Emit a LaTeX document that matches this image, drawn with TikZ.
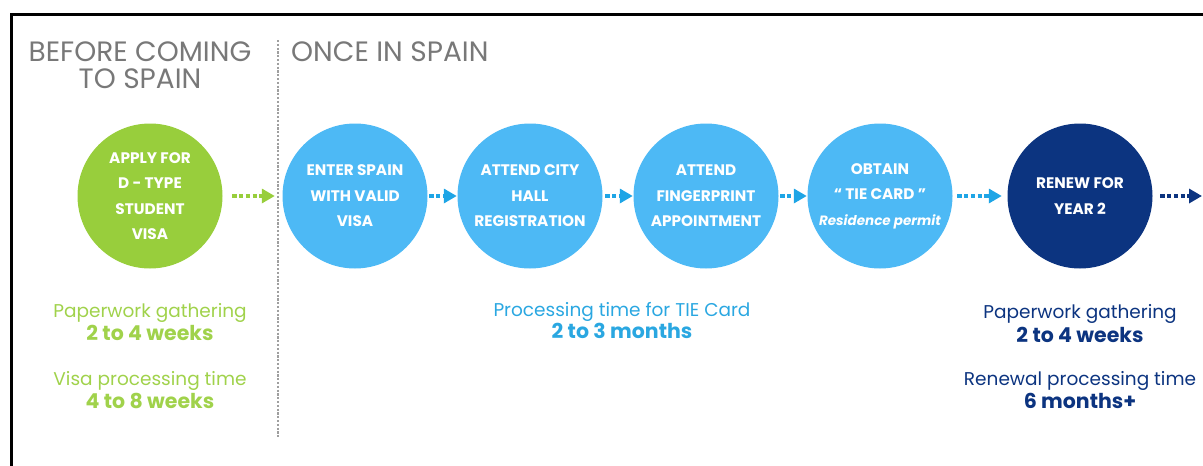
\documentclass[tikz,border=0pt]{standalone}
\usepackage{fontspec}
\setmainfont{Poppins}
\usetikzlibrary{arrows.meta}
\definecolor{vgreen}{RGB}{152,206,60}
\definecolor{tgreen}{RGB}{160,210,75}
\definecolor{lblue}{RGB}{77,185,245}
\definecolor{ablue}{RGB}{30,165,230}
\definecolor{tblue}{RGB}{42,167,225}
\definecolor{navy}{RGB}{12,52,128}
\definecolor{headgray}{RGB}{120,120,120}
\begin{document}
\begin{tikzpicture}[x=1pt,y=-1pt,
  stepc/.style={circle, minimum size=145pt, inner sep=0pt, text=white,
    font=\bfseries\fontsize{15.3}{25.5}\selectfont, align=center},
  flow/.style={line width=4.5pt, dash pattern=on 4.3pt off 2.5pt,
    -{Triangle[length=13pt,width=14pt]}},
  head/.style={text=headgray, font=\fontsize{28}{30}\selectfont, inner sep=0pt},
  info/.style={font=\fontsize{18.5}{20}\selectfont, inner sep=0pt, anchor=base},
  infob/.style={font=\bfseries\fontsize{20.5}{22}\selectfont, inner sep=0pt, anchor=base}
]
\useasboundingbox (0,0) rectangle (1203,466);
\draw[line width=3pt] (11,466) -- (11,14) -- (1203,14);

% divider
\coordinate (dtop) at (278,40);
\coordinate (dbot) at (278,438);
\draw[gray!75, line width=2.3pt, dash pattern=on 2.2pt off 1.6pt] (dtop) -- (dbot);

% headings
\node[head, anchor=base] (h1) at (140,61) {BEFORE COMING};
\node[head, anchor=base] (h2) at (140,88) {TO SPAIN};
\node[head, anchor=base west] (h3) at (291,61) {ONCE IN SPAIN};

% circles
\node[stepc, fill=vgreen] (apply) at (150,196) {APPLY FOR\\D - TYPE\\STUDENT\\VISA};
\node[stepc, fill=lblue] (enter) at (355,196) {ENTER SPAIN\\WITH VALID\\VISA};
\node[stepc, fill=lblue] (city) at (530,196) {ATTEND CITY\\HALL\\REGISTRATION};
\node[stepc, fill=lblue] (finger) at (706,196) {ATTEND\\FINGERPRINT\\APPOINTMENT};
\node[stepc, fill=lblue] (obtain) at (880,196) {OBTAIN\\“ TIE CARD ”\\{\itshape\fontsize{13.5}{25.5}\selectfont Residence permit}};
\node[stepc, fill=navy] (renew) at (1080,196) {RENEW FOR\\YEAR 2};
\coordinate (out) at (1203,196);

% connectors
\draw[flow, vgreen, shorten <=9.5pt, shorten >=7.5pt] (apply) -- (enter);
\draw[flow, ablue, shorten <=1.5pt, shorten >=0.5pt] (enter) -- (city);
\draw[flow, ablue, shorten <=2.5pt, shorten >=0.5pt] (city) -- (finger);
\draw[flow, ablue, shorten <=1.5pt, shorten >=0.5pt] (finger) -- (obtain);
\draw[flow, ablue, shorten <=4.5pt, shorten >=5.5pt] (obtain) -- (renew);
\draw[flow, navy, shorten <=7.5pt, shorten >=1pt] (renew) -- (out);

% info texts
\node[info, text=tgreen] (l1) at (150,317) {Paperwork gathering};
\node[infob, text=tgreen] (l2) at (150,340) {2 to 4 weeks};
\node[info, text=tgreen] (l3) at (150,385) {Visa processing time};
\node[infob, text=tgreen] (l4) at (150,408) {4 to 8 weeks};

\node[info, text=tblue] (m1) at (622,316) {Processing time for TIE Card};
\node[infob, text=tblue] (m2) at (622,338) {2 to 3 months};

\node[info, text=navy] (r1) at (1080,318) {Paperwork gathering};
\node[infob, text=navy] (r2) at (1080,342) {2 to 4 weeks};
\node[info, text=navy] (r3) at (1080,385) {Renewal processing time};
\node[infob, text=navy] (r4) at (1080,408) {6 months+};
\end{tikzpicture}
\end{document}
